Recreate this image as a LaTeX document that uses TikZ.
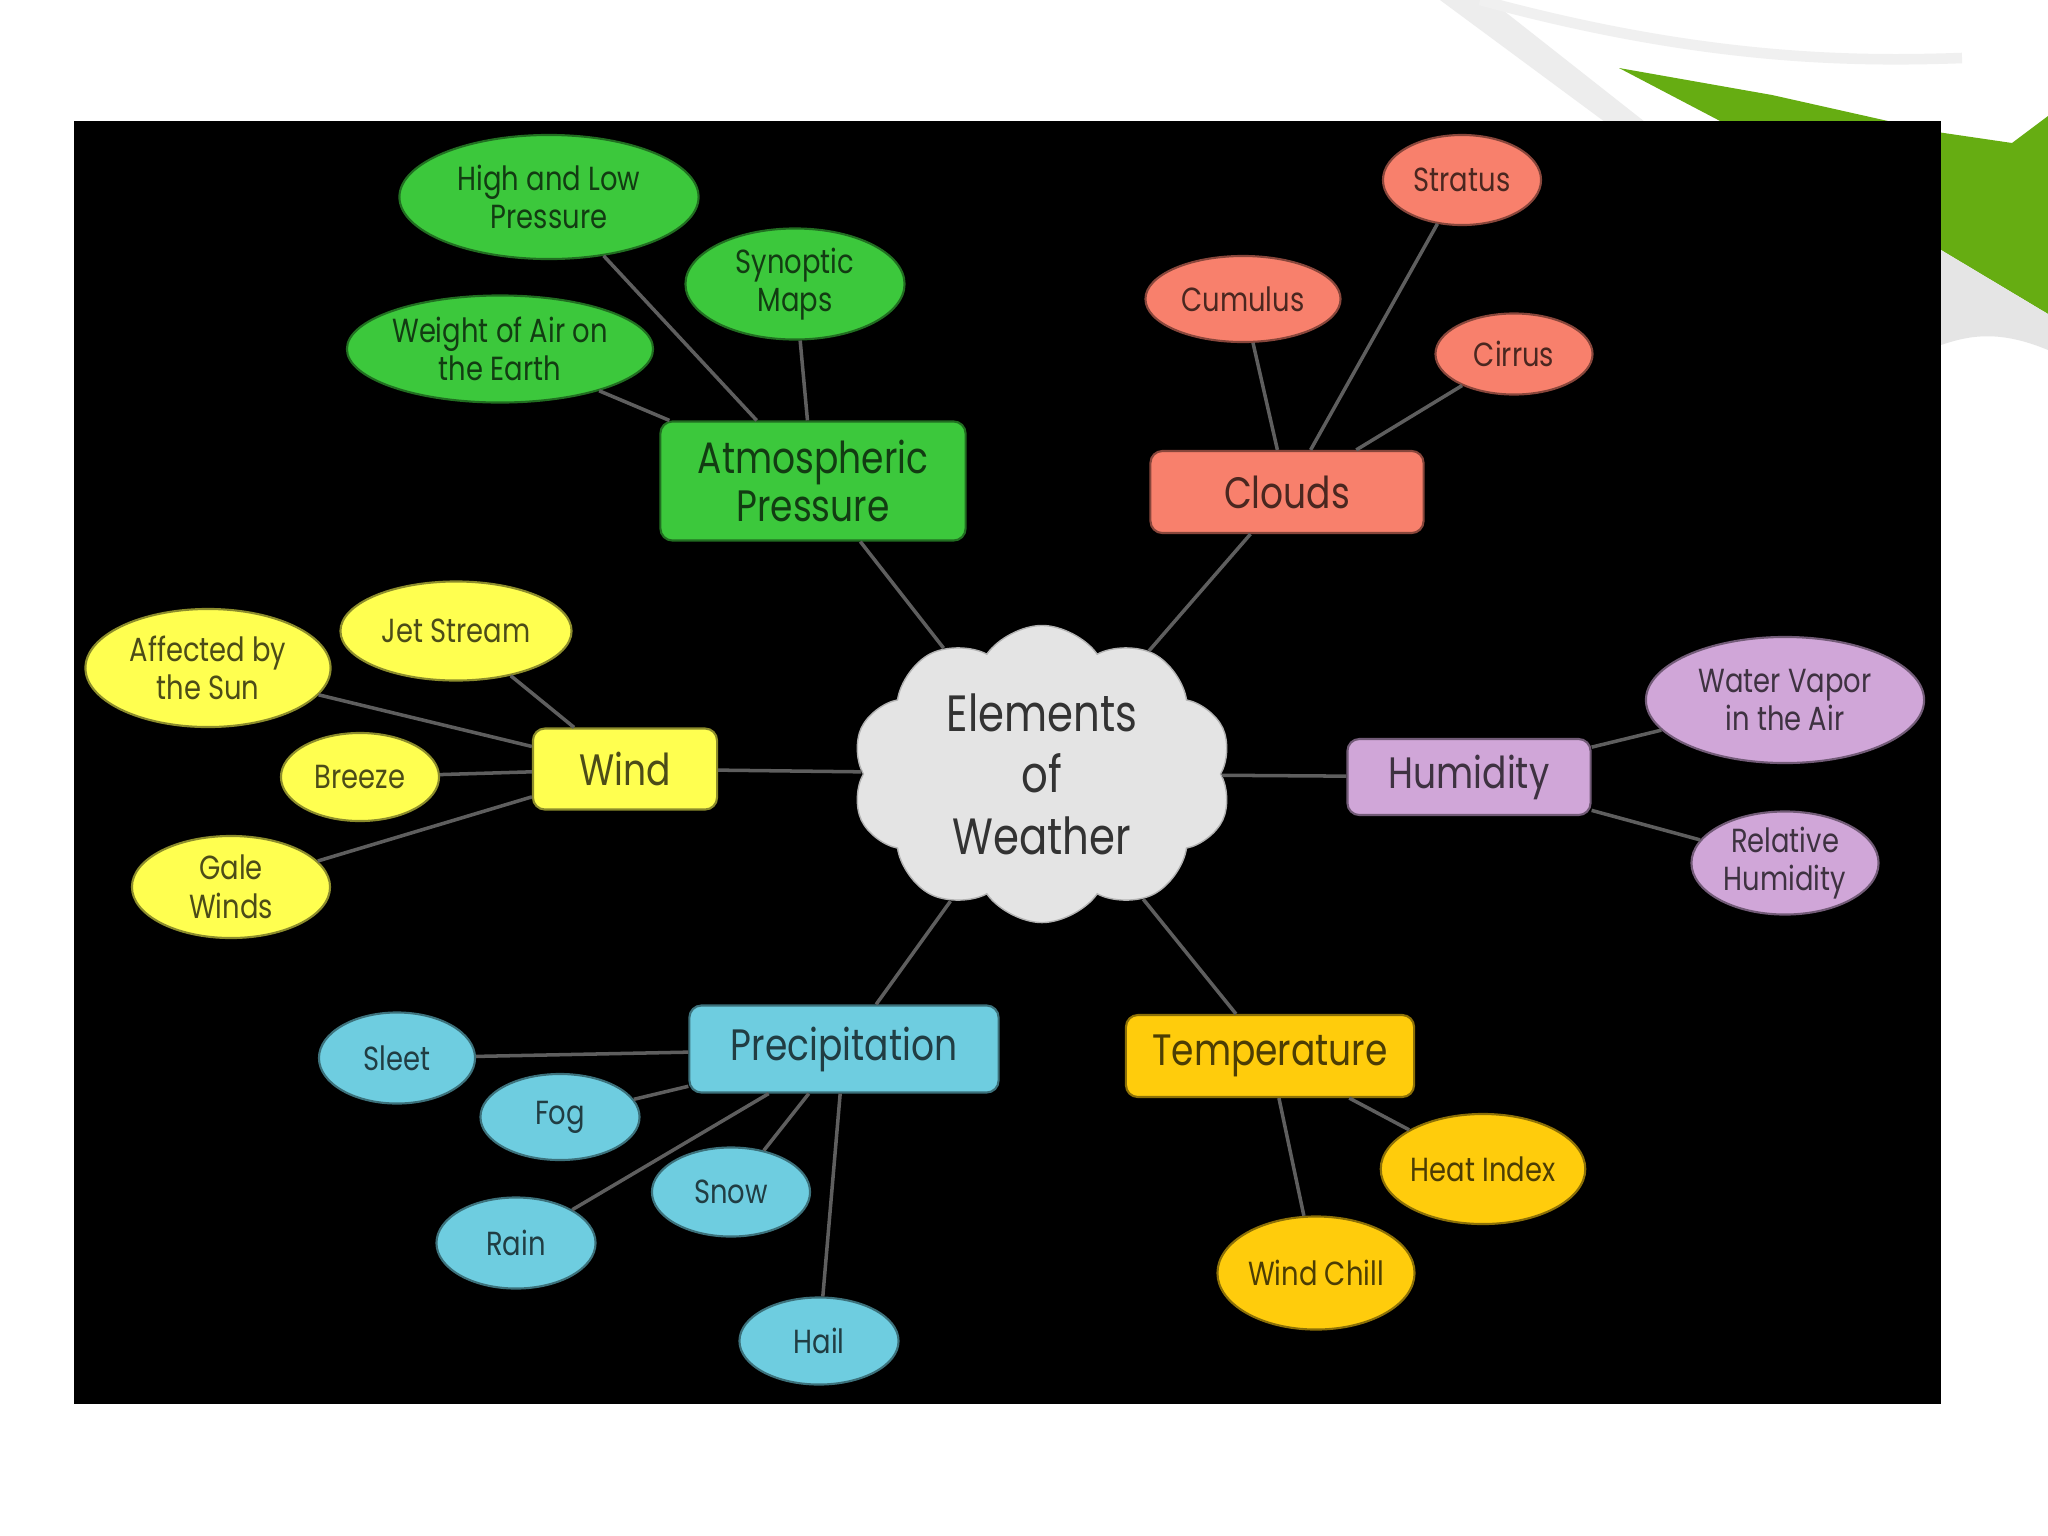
\documentclass[tikz,border=0pt]{standalone}
\usepackage{fontspec}
\setmainfont{Poppins}[FakeStretch=0.82]
\usetikzlibrary{shapes.geometric, shapes.symbols}
\definecolor{curl}{HTML}{66AD12}
\definecolor{pressure}{HTML}{3CC83C}
\definecolor{cloudy}{HTML}{F8806C}
\definecolor{windy}{HTML}{FFFF50}
\definecolor{humid}{HTML}{D0A6D8}
\definecolor{precip}{HTML}{6ECDE0}
\definecolor{temper}{HTML}{FFCC0C}
\definecolor{hubgray}{HTML}{E4E4E4}
\definecolor{wire}{HTML}{5E5E5E}

\begin{document}
\begin{tikzpicture}[x=0.01cm, y=-0.01cm,
    topic/.style={draw=#1!55!black, fill=#1, line width=0.6pt, rounded corners=1.2mm, align=center, text=#1!30!black, font=\fontsize{12.5}{13.5}\selectfont, inner sep=0pt},
    leaf/.style={ellipse, draw=#1!55!black, fill=#1, line width=0.6pt, align=center, text=#1!30!black, font=\fontsize{9.5}{11}\selectfont, inner sep=0pt},
    hub/.style={cloud, cloud puffs=10, cloud puff arc=110, cloud ignores aspect, draw=gray!60, fill=hubgray, align=center, text=black!80, font=\fontsize{14.5}{17.5}\selectfont, minimum width=3.8cm, minimum height=2.95cm},
    link/.style={draw=wire, line width=1pt}
]
\useasboundingbox (0,0) rectangle (2048,1536);
\fill[white] (0,0) rectangle (2048,1536);

% page curl in the corner
\fill[black!7] (1440,0) -- (1490,0) -- (1645,122) -- (1605,122) -- cycle;
\draw[black!6, line width=3pt] (1480,0) .. controls (1700,60) and (1850,62) .. (1962,58);
\fill[curl] (1619,68) -- (1772,95) -- (1937,132) -- (2012,143) -- (2048,116) -- (2048,314) -- (1941,250) -- (1722,122) -- cycle;
\fill[black!10] (1941,250) -- (2048,314) -- (2048,350) .. controls (2000,330) and (1970,335) .. (1941,345) -- cycle;

% slide
\fill[black] (74,121) rectangle (1941,1404);

% centre
\node[hub] (core) at (1042,774) {Elements\\of\\Weather};

% topics
\node[topic=pressure, minimum width=3.05cm, minimum height=1.19cm] (atmos) at (813,481) {Atmospheric\\Pressure};
\node[topic=cloudy, minimum width=2.73cm, minimum height=0.82cm] (clouds) at (1287,492) {Clouds};
\node[topic=windy, minimum width=1.84cm, minimum height=0.81cm] (wind) at (625,769) {Wind};
\node[topic=humid, minimum width=2.43cm, minimum height=0.76cm] (humid) at (1469,777) {Humidity};
\node[topic=precip, minimum width=3.09cm, minimum height=0.87cm] (precip) at (844,1049) {Precipitation};
\node[topic=temper, minimum width=2.88cm, minimum height=0.82cm] (temp) at (1270,1056) {Temperature};

% details
\node[leaf=pressure, minimum width=2.99cm, minimum height=1.24cm] (highlow) at (549,197) {High and Low\\Pressure};
\node[leaf=pressure, minimum width=2.19cm, minimum height=1.11cm] (synoptic) at (795,284) {Synoptic\\Maps};
\node[leaf=pressure, minimum width=3.06cm, minimum height=1.07cm] (weight) at (500,349) {Weight of Air on\\the Earth};

\node[leaf=cloudy, minimum width=1.58cm, minimum height=0.90cm] (stratus) at (1462,180) {Stratus};
\node[leaf=cloudy, minimum width=1.95cm, minimum height=0.86cm] (cumulus) at (1243,299) {Cumulus};
\node[leaf=cloudy, minimum width=1.57cm, minimum height=0.81cm] (cirrus) at (1514,354) {Cirrus};

\node[leaf=windy, minimum width=2.31cm, minimum height=0.99cm] (jet) at (456,631) {Jet Stream};
\node[leaf=windy, minimum width=2.45cm, minimum height=1.18cm] (sun) at (208,668) {Affected by\\the Sun};
\node[leaf=windy, minimum width=1.58cm, minimum height=0.88cm] (breeze) at (360,777) {Breeze};
\node[leaf=windy, minimum width=1.98cm, minimum height=1.02cm] (gale) at (231,887) {Gale\\Winds};

\node[leaf=humid, minimum width=2.78cm, minimum height=1.26cm] (vapor) at (1785,700) {Water Vapor\\in the Air};
\node[leaf=humid, minimum width=1.87cm, minimum height=1.03cm] (relhum) at (1785,863) {Relative\\Humidity};

\node[leaf=precip, minimum width=1.56cm, minimum height=0.91cm] (sleet) at (397,1058) {Sleet};
\node[leaf=precip, minimum width=1.59cm, minimum height=0.86cm] (fog) at (560,1117) {Fog};
\node[leaf=precip, minimum width=1.58cm, minimum height=0.89cm] (snow) at (731,1192) {Snow};
\node[leaf=precip, minimum width=1.59cm, minimum height=0.91cm] (rain) at (516,1243) {Rain};
\node[leaf=precip, minimum width=1.59cm, minimum height=0.87cm] (hail) at (819,1341) {Hail};

\node[leaf=temper, minimum width=2.03cm, minimum height=1.10cm] (heat) at (1483,1169) {Heat Index};
\node[leaf=temper, minimum width=1.97cm, minimum height=1.13cm] (chill) at (1316,1273) {Wind Chill};

% connectors
\draw[link] (core) -- (atmos);
\draw[link] (core) -- (clouds);
\draw[link] (core) -- (wind);
\draw[link] (core) -- (humid);
\draw[link] (core) -- (precip);
\draw[link] (core) -- (temp);

\draw[link] (highlow) -- (atmos);
\draw[link] (synoptic) -- (atmos);
\draw[link] (weight) -- (atmos);
\draw[link] (stratus) -- (clouds);
\draw[link] (cumulus) -- (clouds);
\draw[link] (cirrus) -- (clouds);
\draw[link] (jet) -- (wind);
\draw[link] (sun) -- (wind);
\draw[link] (breeze) -- (wind);
\draw[link] (gale) -- (wind);
\draw[link] (vapor) -- (humid);
\draw[link] (relhum) -- (humid);
\draw[link] (sleet) -- (precip);
\draw[link] (fog) -- (precip);
\draw[link] (snow) -- (precip);
\draw[link] (rain) -- (precip);
\draw[link] (hail) -- (precip);
\draw[link] (heat) -- (temp);
\draw[link] (chill) -- (temp);
\end{tikzpicture}
\end{document}
